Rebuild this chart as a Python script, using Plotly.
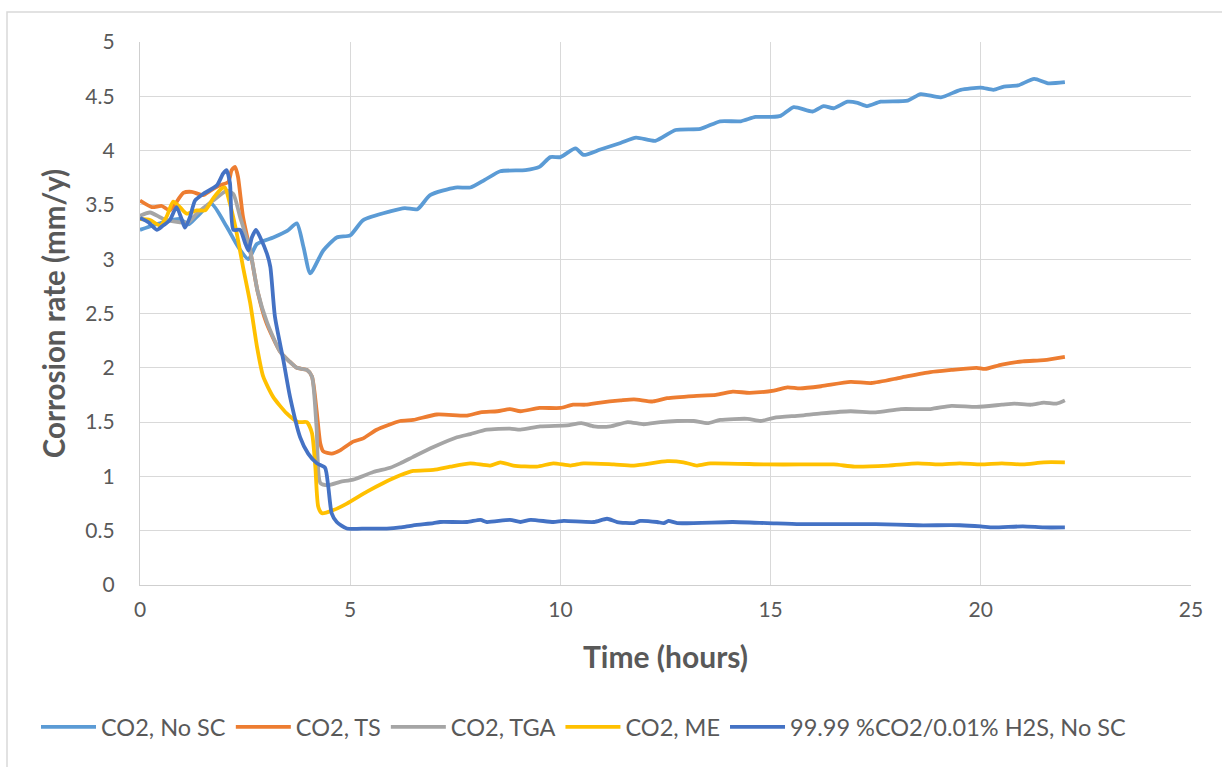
import plotly.graph_objects as go

# Corrosion rate time series (hours, mm/y)
names = ["CO2, No SC", "CO2, TS", "CO2, TGA", "CO2, ME", "99.99 %CO2/0.01% H2S, No SC"]
colors = ["#5B9BD5", "#ED7D31", "#A5A5A5", "#FFC000", "#4472C4"]

no_sc_x = [0, 0.55, 0.95, 1.15, 1.35, 1.7, 2.06, 2.34, 2.58, 2.78, 3.17, 3.5, 3.73, 3.89, 4.05, 4.36,
           4.68, 5.0, 5.31, 5.95, 6.3, 6.6, 6.9, 7.5, 7.86, 8.2, 8.57, 9.17, 9.5, 9.76, 10.0, 10.36,
           10.55, 10.95, 11.43, 11.8, 12.26, 12.74, 13.33, 13.8, 14.29, 14.64, 15.0, 15.24, 15.55,
           16.0, 16.26, 16.5, 16.83, 17.07, 17.3, 17.62, 18.26, 18.57, 19.05, 19.52, 20.0, 20.3,
           20.55, 20.88, 21.27, 21.6, 22.0]
no_sc_y = [3.27, 3.34, 3.37, 3.32, 3.39, 3.51, 3.30, 3.11, 3.00, 3.14, 3.20, 3.26, 3.33, 3.11, 2.87,
           3.08, 3.20, 3.22, 3.36, 3.44, 3.47, 3.46, 3.59, 3.66, 3.66, 3.73, 3.81, 3.82, 3.85, 3.94,
           3.94, 4.02, 3.96, 4.01, 4.07, 4.12, 4.09, 4.19, 4.20, 4.27, 4.27, 4.31, 4.31, 4.32, 4.40,
           4.36, 4.41, 4.39, 4.45, 4.44, 4.41, 4.45, 4.46, 4.52, 4.49, 4.56, 4.58, 4.56, 4.59, 4.60,
           4.66, 4.62, 4.63]

ts_x = [0, 0.28, 0.52, 0.71, 1.03, 1.23, 1.5, 1.67, 1.9, 2.1, 2.18, 2.26, 2.33, 2.45, 2.62, 2.8, 3.0,
        3.33, 3.55, 3.73, 3.97, 4.09, 4.2, 4.29, 4.36, 4.56, 4.76, 5.07, 5.31, 5.63, 6.19, 6.5, 7.06,
        7.78, 8.1, 8.5, 8.8, 9.05, 9.5, 10.0, 10.3, 10.6, 10.95, 11.43, 11.75, 12.2, 12.54, 13.17,
        13.7, 14.1, 14.5, 15.08, 15.4, 15.7, 16.2, 16.9, 17.4, 18.1, 18.8, 19.3, 19.9, 20.1, 20.5,
        21.0, 21.5, 22.0]
ts_y = [3.54, 3.48, 3.49, 3.45, 3.61, 3.62, 3.59, 3.63, 3.68, 3.71, 3.82, 3.85, 3.76, 3.39, 3.08,
        2.70, 2.42, 2.15, 2.06, 2.00, 1.98, 1.92, 1.61, 1.30, 1.23, 1.21, 1.24, 1.32, 1.35, 1.43,
        1.51, 1.52, 1.57, 1.56, 1.59, 1.60, 1.62, 1.60, 1.63, 1.63, 1.66, 1.66, 1.68, 1.70, 1.71,
        1.69, 1.72, 1.74, 1.75, 1.78, 1.77, 1.79, 1.82, 1.81, 1.83, 1.87, 1.86, 1.91, 1.96, 1.98,
        2.00, 1.99, 2.03, 2.06, 2.07, 2.10]

tga_x = [0, 0.24, 0.56, 0.95, 1.15, 1.35, 1.74, 2.06, 2.22, 2.38, 2.62, 2.8, 3.02, 3.33, 3.55, 3.73,
         3.97, 4.09, 4.2, 4.29, 4.48, 4.76, 5.07, 5.55, 5.95, 6.19, 6.5, 6.98, 7.54, 7.86, 8.25, 8.8,
         9.05, 9.52, 10.16, 10.5, 10.8, 11.19, 11.6, 11.98, 12.38, 12.78, 13.17, 13.5, 13.8, 14.45,
         14.76, 15.08, 15.7, 16.2, 16.9, 17.5, 18.1, 18.8, 19.3, 19.9, 20.5, 20.8, 21.2, 21.5, 21.8,
         22.0]
tga_y = [3.40, 3.43, 3.37, 3.34, 3.34, 3.42, 3.54, 3.63, 3.60, 3.39, 3.08, 2.70, 2.42, 2.15, 2.06,
         2.00, 1.98, 1.92, 1.45, 0.94, 0.92, 0.95, 0.97, 1.04, 1.08, 1.12, 1.18, 1.27, 1.36, 1.39,
         1.43, 1.44, 1.43, 1.46, 1.47, 1.49, 1.46, 1.46, 1.50, 1.48, 1.50, 1.51, 1.51, 1.49, 1.52,
         1.53, 1.51, 1.54, 1.56, 1.58, 1.60, 1.59, 1.62, 1.62, 1.65, 1.64, 1.66, 1.67, 1.66, 1.68,
         1.67, 1.70]

me_x = [0, 0.24, 0.48, 0.63, 0.79, 0.95, 1.11, 1.35, 1.55, 1.74, 1.94, 2.02, 2.14, 2.3, 2.45, 2.62,
        2.78, 2.93, 3.17, 3.49, 3.76, 3.97, 4.09, 4.17, 4.24, 4.33, 4.6, 4.92, 5.4, 5.79, 6.19, 6.5,
        6.98, 7.38, 7.86, 8.33, 8.57, 8.88, 9.44, 9.83, 10.24, 10.55, 11.27, 11.75, 12.54, 12.93,
        13.25, 13.57, 14.92, 15.7, 16.5, 17.0, 17.8, 18.5, 19.0, 19.5, 20.0, 20.5, 21.0, 21.5, 22.0]
me_y = [3.37, 3.36, 3.31, 3.39, 3.53, 3.48, 3.42, 3.45, 3.45, 3.56, 3.65, 3.66, 3.51, 3.24, 2.93,
        2.60, 2.20, 1.92, 1.73, 1.58, 1.50, 1.50, 1.40, 1.09, 0.72, 0.66, 0.69, 0.75, 0.86, 0.94,
        1.01, 1.05, 1.06, 1.09, 1.12, 1.10, 1.13, 1.10, 1.09, 1.12, 1.10, 1.12, 1.11, 1.10, 1.14,
        1.13, 1.10, 1.12, 1.11, 1.11, 1.11, 1.09, 1.10, 1.12, 1.11, 1.12, 1.11, 1.12, 1.11, 1.13,
        1.13]

h2s_x = [0, 0.2, 0.4, 0.55, 0.71, 0.87, 0.99, 1.07, 1.19, 1.31, 1.5, 1.83, 1.98, 2.06, 2.14, 2.22,
         2.38, 2.5, 2.58, 2.66, 2.76, 2.86, 3.02, 3.1, 3.21, 3.41, 3.57, 3.81, 4.0, 4.21, 4.4, 4.48,
         4.56, 4.68, 4.92, 5.4, 5.87, 6.19, 6.5, 6.98, 7.14, 7.78, 8.1, 8.25, 8.8, 9.05, 9.29, 9.83,
         10.08, 10.8, 11.11, 11.35, 11.75, 11.9, 12.3, 12.46, 12.57, 12.78, 14.1, 14.92, 15.7, 16.5,
         17.5, 18.5, 19.5, 20.0, 20.3, 21.0, 21.5, 22.0]
h2s_y = [3.38, 3.34, 3.27, 3.31, 3.36, 3.48, 3.37, 3.29, 3.39, 3.54, 3.60, 3.68, 3.79, 3.82, 3.70,
         3.27, 3.27, 3.15, 3.08, 3.20, 3.27, 3.20, 3.05, 2.93, 2.47, 2.07, 1.73, 1.36, 1.21, 1.12,
         1.08, 0.90, 0.66, 0.58, 0.52, 0.52, 0.52, 0.53, 0.55, 0.57, 0.58, 0.58, 0.60, 0.58, 0.60,
         0.58, 0.60, 0.58, 0.59, 0.58, 0.61, 0.58, 0.57, 0.59, 0.58, 0.57, 0.59, 0.57, 0.58, 0.57,
         0.56, 0.56, 0.56, 0.55, 0.55, 0.54, 0.53, 0.54, 0.53, 0.53]

x_ticks = [0, 5, 10, 15, 20, 25]
y_ticks = [0, 0.5, 1, 1.5, 2, 2.5, 3, 3.5, 4, 4.5, 5]

series = [(no_sc_x, no_sc_y), (ts_x, ts_y), (tga_x, tga_y), (me_x, me_y), (h2s_x, h2s_y)]

FONT = "Lato"
TXT = "#595959"
GRID = "#D9D9D9"

fig = go.Figure()
for (xs, ys), name, col in zip(series, names, colors):
    fig.add_trace(go.Scatter(
        x=xs, y=ys, mode="lines", name=name,
        line=dict(color=col, width=3.8, shape="spline", smoothing=0.6),
    ))

W, H = 1222, 767
ml, mr, mt, mb = 140, 31, 42, 182
pw, ph = W - ml - mr, H - mt - mb

fig.update_layout(
    width=W, height=H,
    margin=dict(l=ml, r=mr, t=mt, b=mb, pad=0),
    paper_bgcolor="white", plot_bgcolor="white",
    font=dict(family=FONT, color=TXT),
    showlegend=True,
    legend=dict(
        orientation="h", x=(36 - ml) / pw, xanchor="left",
        y=(H - mb - 727) / ph, yanchor="middle",
        font=dict(family=FONT, size=23.5, color=TXT),
        itemwidth=55, tracegroupgap=0, bgcolor="rgba(0,0,0,0)",
    ),
    xaxis=dict(
        range=[0, 25], tickvals=x_ticks, ticktext=[str(v) for v in x_ticks],
        showgrid=True, gridcolor=GRID, gridwidth=1.3,
        showline=True, linecolor="#CFCFCF", linewidth=1.3,
        zeroline=False, ticks="", ticklabelstandoff=6,
        tickfont=dict(family=FONT, size=21, color=TXT),
        title=dict(text="<b>Time (hours)</b>", font=dict(family=FONT, size=30, color=TXT), standoff=26),
    ),
    yaxis=dict(
        range=[0, 5], tickvals=y_ticks, ticktext=[f"{v:g}" for v in y_ticks],
        showgrid=True, gridcolor=GRID, gridwidth=1.3,
        showline=True, linecolor="#CFCFCF", linewidth=1.3,
        zeroline=False, ticks="", ticklabelstandoff=20,
        tickfont=dict(family=FONT, size=21, color=TXT),
        title=dict(text="<b>Corrosion rate (mm/y)</b>", font=dict(family=FONT, size=29.5, color=TXT), standoff=10),
    ),
)

# Outer chart frame
fig.add_shape(
    type="rect", xref="paper", yref="paper",
    x0=(7 - ml) / pw, x1=(W + 10 - ml) / pw,
    y0=-(H + 10 - (H - mb)) / ph, y1=1 + (mt - 12) / ph,
    line=dict(color=GRID, width=1.5), fillcolor="rgba(0,0,0,0)", layer="below",
)

fig.write_html("out.html")
